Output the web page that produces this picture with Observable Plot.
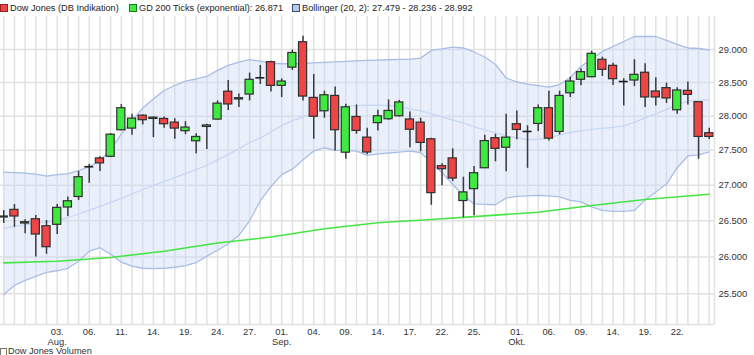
<!DOCTYPE html>
<html><head><meta charset="utf-8">
<script src="https://cdn.jsdelivr.net/npm/d3@7"></script>
<script src="https://cdn.jsdelivr.net/npm/@observablehq/plot@0.6"></script>
<style>
body{margin:0;background:#fff;font-family:"Liberation Sans",Arial,sans-serif;color:#222;}
#legend{position:relative;height:16px;font-size:9.2px;}
#legend .t{position:absolute;top:3px;white-space:nowrap;line-height:11px;}
#legend .sw{position:absolute;top:4px;width:6px;height:6px;border:1px solid;}
#chart svg{overflow:visible;display:block;}
#bottom{position:relative;height:14px;font-size:9.2px;margin-top:-5px;}
#bottom .t{position:absolute;top:1px;left:8px;white-space:nowrap;line-height:11px;color:#333;}
#bottom .sw{position:absolute;top:3px;left:0;width:5px;height:6px;border:1px solid #777;background:#fff;}
</style>
</head><body>
<div id="legend"></div>
<div id="chart"></div>
<div id="bottom"><span class="sw"></span><span class="t">Dow Jones Volumen</span></div>
<script>
// trading days (weekday axis)
const dates = [
"2020-07-27","2020-07-28","2020-07-29","2020-07-30","2020-07-31",
"2020-08-03","2020-08-04","2020-08-05","2020-08-06","2020-08-07","2020-08-10","2020-08-11","2020-08-12","2020-08-13","2020-08-14",
"2020-08-17","2020-08-18","2020-08-19","2020-08-20","2020-08-21","2020-08-24","2020-08-25","2020-08-26","2020-08-27","2020-08-28","2020-08-31",
"2020-09-01","2020-09-02","2020-09-03","2020-09-04","2020-09-07","2020-09-08","2020-09-09","2020-09-10","2020-09-11",
"2020-09-14","2020-09-15","2020-09-16","2020-09-17","2020-09-18","2020-09-21","2020-09-22","2020-09-23","2020-09-24","2020-09-25",
"2020-09-28","2020-09-29","2020-09-30","2020-10-01","2020-10-02","2020-10-05","2020-10-06","2020-10-07","2020-10-08","2020-10-09",
"2020-10-12","2020-10-13","2020-10-14","2020-10-15","2020-10-16","2020-10-19","2020-10-20","2020-10-21","2020-10-22","2020-10-23",
"2020-10-26","2020-10-27"];

const open  = [26545,26652,26461,26521,26423,26443,26685,26833,27264,27384,27407,27793,27817,28007,27959,27959,27905,27779,27632,27841,
27949,28363,28247,28320,28571,28807,28450,28724,29111,28270,28072,28300,27466,27988,27685,27897,27954,27998,27951,27905,
27661,27272,27384,26776,26944,27242,27677,27538,27881,27775,27885,28117,27768,28339,28541,28580,28843,28752,28515,28530,
28647,28366,28416,28087,28376,28207,27750];
const high  = [26642,26726,26512,26573,26503,26726,26833,27195,27298,27407,27743,28171,28028,28018,27988,27988,27963,27919,27743,27881,
28225,28530,28328,28642,28757,28822,28556,28992,29203,28621,28370,28431,28177,28166,27822,28087,28241,28233,28062,27969,
27676,27308,27522,27114,27266,27720,27734,28028,28077,27859,28166,28370,28370,28580,28707,28974,28883,28792,28556,28843,
28783,28571,28492,28421,28507,28211,27822];
const low   = [26461,26410,26318,26000,26036,26308,26559,26785,27028,27197,27395,27783,27720,27871,27685,27822,27661,27728,27451,27514,
27940,28084,28126,28225,28470,28357,28277,28682,28225,27661,27969,27490,27371,27734,27437,27783,27940,27988,27537,27480,
26716,26992,27052,26541,26569,27240,27336,27191,27654,27242,27773,27636,27724,28277,28450,28571,28591,28455,28150,28440,
28126,28150,28188,28028,28166,27371,27656];
const close = [26559,26559,26479,26308,26133,26680,26773,27114,27264,27312,27728,28117,27963,27940,27978,27881,27817,27832,27695,27863,
28185,28173,28266,28541,28571,28450,28515,28947,28290,27991,28310,27793,28130,27783,27469,27998,28077,28203,27800,27608,
26888,27229,27095,26898,27171,27635,27522,27685,27797,27775,28117,27670,28300,28515,28656,28934,28691,28550,28515,28616,
28277,28277,28262,28381,28315,27695,27695];

// Bollinger (20, 2)
const bbUpper  = [27186,27179,27172,27158,27130,27151,27165,27208,27264,27349,27515,27735,27930,28119,28255,28380,28455,28520,28553,28591,
28682,28758,28808,28844,28823,28792,28783,28783,28788,28795,28803,28811,28818,28826,28833,28838,28844,28849,28849,28868,
28985,29008,29035,29023,28962,28886,28773,28568,28508,28477,28455,28432,28470,28576,28742,28856,28970,29046,29122,29199,
29199,29199,29138,29077,29023,29015,28992];
const bbMiddle = [26393,26421,26441,26462,26482,26503,26545,26594,26644,26700,26756,26813,26876,26939,26996,27052,27109,27165,27222,27285,
27363,27438,27526,27611,27680,27768,27864,27930,27988,28041,28093,28123,28146,28154,28161,28161,28154,28139,28108,28078,
28033,27988,27940,27900,27842,27798,27754,27710,27680,27658,27658,27680,27724,27761,27783,27805,27820,27834,27856,27908,
27974,28033,28101,28169,28221,28236,28236];
const bbLower  = [25490,25613,25681,25736,25790,25811,25845,25941,26078,26126,26037,25928,25873,25845,25839,25845,25859,25880,25921,26010,
26092,26181,26297,26503,26778,26982,27151,27229,27363,27490,27538,27504,27497,27490,27427,27448,27462,27476,27490,27469,
27321,27179,27010,26855,26735,26728,26724,26820,26841,26848,26855,26848,26834,26785,26763,26693,26644,26630,26630,26644,
26792,26904,27017,27250,27419,27434,27479];

// GD 200 (exponential), read at sample days
const gdDates  = ["2020-07-27","2020-08-03","2020-08-10","2020-08-17","2020-08-24","2020-08-31","2020-09-07","2020-09-14",
"2020-09-21","2020-09-28","2020-10-05","2020-10-12","2020-10-19","2020-10-27"];
const gdValues = [25918,25941,25992,26078,26191,26273,26389,26471,26517,26568,26619,26713,26797,26871];

// axis ticks
const yTicks = [25500,26000,26500,27000,27500,28000,28500,29000];
const xTickDates  = ["2020-08-03","2020-08-06","2020-08-11","2020-08-14","2020-08-19","2020-08-24","2020-08-27","2020-09-01",
"2020-09-04","2020-09-09","2020-09-14","2020-09-17","2020-09-22","2020-09-25","2020-10-01","2020-10-06","2020-10-09",
"2020-10-14","2020-10-19","2020-10-22"];
const xTickLabels = ["03.\nAug.","06.","11.","14.","19.","24.","27.","01.\nSep.","04.","09.","14.","17.","22.","25.","01.\nOkt.",
"06.","09.","14.","19.","22."];

const xDomain = [-0.304, 66.49];
const yDomain = [25091, 29508];

const de = d3.formatLocale({decimal: ",", thousands: ".", grouping: [3], currency: ["", "€"]});
const fmt = de.format(",d");

const GREEN = "#3fe93f", RED = "#ef4545", GRID = "#e1e1e1";

const candles = dates.map((d, i) => ({i, o: open[i], h: high[i], l: low[i], c: close[i]}));
const bodies = candles.filter(d => d.o !== d.c);
const dojis = candles.filter(d => d.o === d.c);
const band = dates.map((d, i) => ({i, up: bbUpper[i], mid: bbMiddle[i], lo: bbLower[i]}));
const gd = gdDates.map((d, k) => ({i: dates.indexOf(d), v: gdValues[k]}));
const xTicks = xTickDates.map(d => dates.indexOf(d));
const xLabel = new Map(xTicks.map((t, k) => [t, xTickLabels[k]]));

// legend
const n = dates.length - 1;
const legendItems = [
  {left: 0, color: RED, border: "#9a2020", text: "Dow Jones (DB Indikation)"},
  {left: 129, color: GREEN, border: "#1d7a1d", text: "GD 200 Ticks (exponential): " + fmt(gdValues[gdValues.length - 1])},
  {left: 292, color: "#b9c9ee", border: "#3d4a6a", text: "Bollinger (20, 2): " + fmt(bbLower[n]) + " - " + fmt(bbMiddle[n]) + " - " + fmt(bbUpper[n])}
];
const leg = document.getElementById("legend");
for (const it of legendItems) {
  const s = document.createElement("span"); s.className = "sw";
  s.style.left = it.left + "px"; s.style.background = it.color; s.style.borderColor = it.border;
  const t = document.createElement("span"); t.className = "t";
  t.style.left = (it.left + 10) + "px"; t.textContent = it.text;
  leg.append(s, t);
}

const chart = Plot.plot({
  width: 754, height: 334,
  marginTop: 0, marginBottom: 26, marginLeft: 0, marginRight: 40,
  style: {fontFamily: "'Liberation Sans', Arial, sans-serif", fontSize: "9.4px", color: "#333", background: "#fff"},
  x: {type: "linear", domain: xDomain},
  y: {type: "log", domain: yDomain},
  marks: [
    Plot.ruleX(candles, {x: "i", stroke: GRID, strokeWidth: 1.5}),
    Plot.ruleY(yTicks, {stroke: GRID, strokeWidth: 1.5}),
    Plot.ruleX([xDomain[1]], {stroke: GRID, strokeWidth: 1.5}),
    Plot.ruleY([yDomain[0]], {stroke: GRID, strokeWidth: 1.5}),
    Plot.areaY(band, {x: "i", y1: "lo", y2: "up", fill: "#c8daf7", fillOpacity: 0.4}),
    Plot.lineY(band, {x: "i", y: "mid", stroke: "#c6d7f5", strokeWidth: 1.3}),
    Plot.lineY(band, {x: "i", y: "up", stroke: "#a8bde8", strokeWidth: 1.3}),
    Plot.lineY(band, {x: "i", y: "lo", stroke: "#a8bde8", strokeWidth: 1.3}),
    Plot.lineY(gd, {x: "i", y: "v", stroke: "#45e445", strokeWidth: 1.6}),
    Plot.ruleX(candles, {x: "i", y1: "l", y2: "h", stroke: "#3a3a3a", strokeWidth: 1.5}),
    Plot.rect(bodies, {x1: d => d.i - 0.38, x2: d => d.i + 0.38, y1: "o", y2: "c",
      fill: d => d.c > d.o ? GREEN : RED, stroke: "#303030", strokeWidth: 1.2}),
    Plot.ruleY(dojis, {y: "c", x1: d => d.i - 0.42, x2: d => d.i + 0.42, stroke: "#1e1e1e", strokeWidth: 1.6}),
    Plot.axisY(yTicks, {anchor: "right", tickSize: 0, tickPadding: 4, tickFormat: fmt, label: null, fill: "#333"}),
    Plot.axisX(xTicks, {anchor: "bottom", tickSize: 0, tickPadding: 3, tickFormat: d => xLabel.get(d), label: null, lineHeight: 1.1, fill: "#333"})
  ]
});
document.getElementById("chart").append(chart);
</script>
</body></html>
